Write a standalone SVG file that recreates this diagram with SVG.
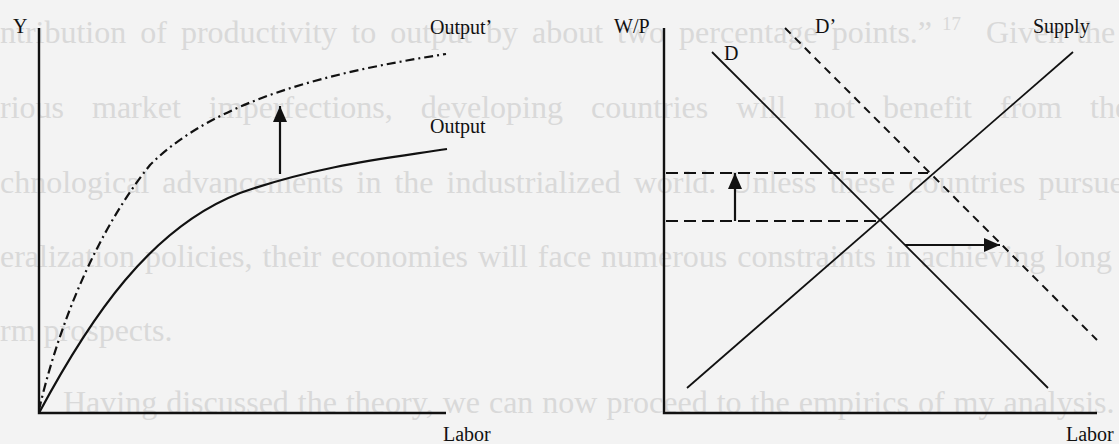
<svg xmlns="http://www.w3.org/2000/svg" width="1119" height="444" viewBox="0 0 1119 444">
<style>
.bg{font-family:"Liberation Serif","Times New Roman",serif;font-size:32px;fill:#d9d9d9}
.lbl{font-family:"Liberation Serif","Times New Roman",serif;font-size:20px;fill:#111}
.ax{stroke:#111;stroke-width:2.4;fill:none}
.cv{stroke:#111;stroke-width:2.2;fill:none}
.ln{stroke:#111;stroke-width:1.8;fill:none}
.dd{stroke:#111;stroke-width:2.2;fill:none;stroke-dasharray:9 4 2 4}
.dh{stroke:#111;stroke-width:2.2;fill:none;stroke-dasharray:12 6}
.dd2{stroke:#111;stroke-width:2;fill:none;stroke-dasharray:8 6}
.ar{stroke:#111;stroke-width:2.2;fill:none}
</style>
<defs>
<marker id="ah" viewBox="0 0 16 14" refX="16" refY="7" markerWidth="16" markerHeight="14" markerUnits="userSpaceOnUse" orient="auto"><path d="M0,0 L16,7 L0,14 z" fill="#111"/></marker>
</defs>
<rect x="0" y="0" width="1119" height="444" fill="#f3f3f3"/>
<g id="background-text">
<text class="bg" x="0" y="43" style="word-spacing:6px">ntribution of productivity to output by about two percentage points.”</text>
<text class="bg" x="942" y="30" style="font-size:19px">17</text>
<text class="bg" x="986" y="43" style="word-spacing:4px">Given the</text>
<text class="bg" x="0" y="118" style="word-spacing:20px">rious market imperfections, developing countries will not benefit from the</text>
<text class="bg" x="0" y="193" style="word-spacing:5px">chnological advancements in the industrialized world. Unless these countries pursue</text>
<text class="bg" x="0" y="267" style="word-spacing:2px">eralization policies, their economies will face numerous constraints in achieving long</text>
<text class="bg" x="0" y="341">rm prospects.</text>
<text class="bg" x="63" y="413" style="word-spacing:1px">Having discussed the theory, we can now proceed to the empirics of my analysis.</text>
</g>
<g id="production-chart">
<path class="ax" d="M39,28 V413 H446"/>
<path class="cv" d="M39,413 C90,318 150,228 240,193 C320,165 390,158 447,149"/>
<path class="dd" d="M39,410 C55,340 90,240 150,165 C215,100 330,72 446,54"/>
<line class="ar" x1="280" y1="174" x2="280" y2="106" marker-end="url(#ah)"/>
<text class="lbl" x="13" y="33">Y</text>
<text class="lbl" x="430" y="34">Output’</text>
<text class="lbl" x="430" y="133">Output</text>
<text class="lbl" x="443" y="441">Labor</text>
</g>
<g id="labor-market-chart">
<path class="ax" d="M664,28 V413 H1097"/>
<line class="ln" x1="712" y1="52" x2="1048" y2="388"/>
<line class="dd2" x1="785" y1="28" x2="1097" y2="340"/>
<line class="ln" x1="1073" y1="52" x2="687" y2="388"/>
<line class="dh" x1="666" y1="173" x2="928" y2="173"/>
<line class="dh" x1="666" y1="221" x2="880" y2="221"/>
<line class="ar" x1="735" y1="221" x2="735" y2="173" marker-end="url(#ah)"/>
<line class="ar" x1="905" y1="245" x2="1000" y2="245" marker-end="url(#ah)"/>
<text class="lbl" x="614" y="33">W/P</text>
<text class="lbl" x="724" y="60">D</text>
<text class="lbl" x="815" y="33">D’</text>
<text class="lbl" x="1033" y="33">Supply</text>
<text class="lbl" x="1066" y="441">Labor</text>
</g>
</svg>
